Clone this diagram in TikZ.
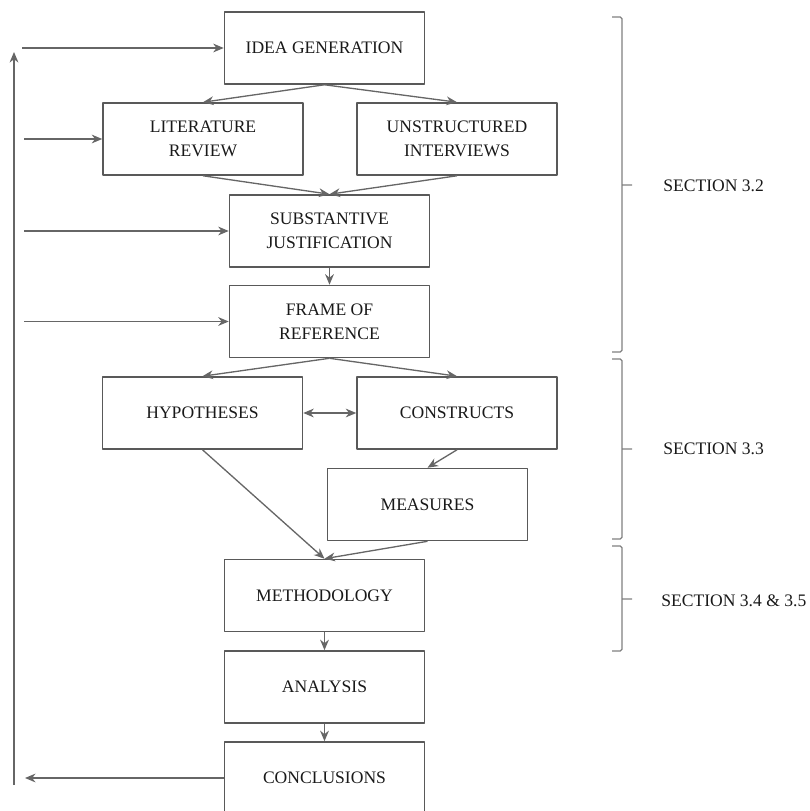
\documentclass[tikz,border=0pt]{standalone}
\usepackage{fontspec}
\setmainfont{Liberation Serif}
\usetikzlibrary{arrows.meta}
\begin{document}
\begin{tikzpicture}[>={Stealth[length=6pt, width=5pt]}, line join=round, x=.02cm, y=-.02cm,
  box/.style={draw=black!65, line width=.9pt, minimum width=4cm, minimum height=1.44cm,
    inner sep=0pt, align=center, text=black!90, font=\fontsize{10}{13.7}\selectfont},
  flow/.style={->, draw=black!60, line width=.75pt},
  brace/.style={draw=black!50, line width=.7pt, rounded corners=1pt},
  seclabel/.style={anchor=west, inner sep=0pt, text=black!90, font=\fontsize{10}{12}\selectfont}]
\useasboundingbox (0,0) rectangle (810,811);
\node[box] (idea) at (324.5,48) {IDEA GENERATION};
\node[box] (lit) at (203,139) {LITERATURE\\REVIEW};
\node[box] (unstr) at (457,139) {UNSTRUCTURED\\INTERVIEWS};
\node[box] (subst) at (329.5,231) {SUBSTANTIVE\\JUSTIFICATION};
\node[box] (frame) at (329.5,321.5) {FRAME OF\\REFERENCE};
\node[box] (hyp) at (202.5,413) {HYPOTHESES};
\node[box] (constr) at (457,413) {CONSTRUCTS};
\node[box] (meas) at (427.5,504.5) {MEASURES};
\node[box] (method) at (324.5,595.5) {METHODOLOGY};
\node[box] (anal) at (324.5,687) {ANALYSIS};
\node[box] (concl) at (324.5,778) {CONCLUSIONS};

\draw[flow] (idea.south) -- (lit.north);
\draw[flow] (idea.south) -- (unstr.north);
\draw[flow] (lit.south) -- (subst.north);
\draw[flow] (unstr.south) -- (subst.north);
\draw[flow] (subst) -- (frame);
\draw[flow] (frame.south) -- (hyp.north);
\draw[flow] (frame.south) -- (constr.north);
\draw[flow, <->] (hyp) -- (constr);
\draw[flow] (constr.south) -- (meas.north);
\draw[flow] (hyp.south) -- (method.north);
\draw[flow] (meas.south) -- (method.north);
\draw[flow] (method) -- (anal);
\draw[flow] (anal) -- (concl);

\coordinate (loopbot) at (14,785);
\coordinate (looptop) at (14,52);
\coordinate (fb1) at (22,48);
\coordinate (fb2) at (24,139);
\coordinate (fb3) at (24,231);
\coordinate (fb4) at (24,321.5);
\coordinate (out) at (25,778);
\draw[flow] (loopbot) -- (looptop);
\draw[flow] (fb1) -- (idea.west);
\draw[flow] (fb2) -- (lit.west);
\draw[flow] (fb3) -- (subst.west);
\draw[flow] (fb4) -- (frame.west);
\draw[flow] (concl.west) -- (out);

\draw[brace] (612,17) -- (622,17) -- (622,352) -- (612,352) (622,185) -- (632,185);
\draw[brace] (612,359) -- (622,359) -- (622,539) -- (612,539) (622,449) -- (632,449);
\draw[brace] (612,546) -- (622,546) -- (622,651) -- (612,651) (622,599) -- (632,599);
\node[seclabel] (s32) at (663,186) {SECTION 3.2};
\node[seclabel] (s33) at (663,449) {SECTION 3.3};
\node[seclabel] (s345) at (661,601) {SECTION 3.4 \& 3.5};
\end{tikzpicture}
\end{document}
